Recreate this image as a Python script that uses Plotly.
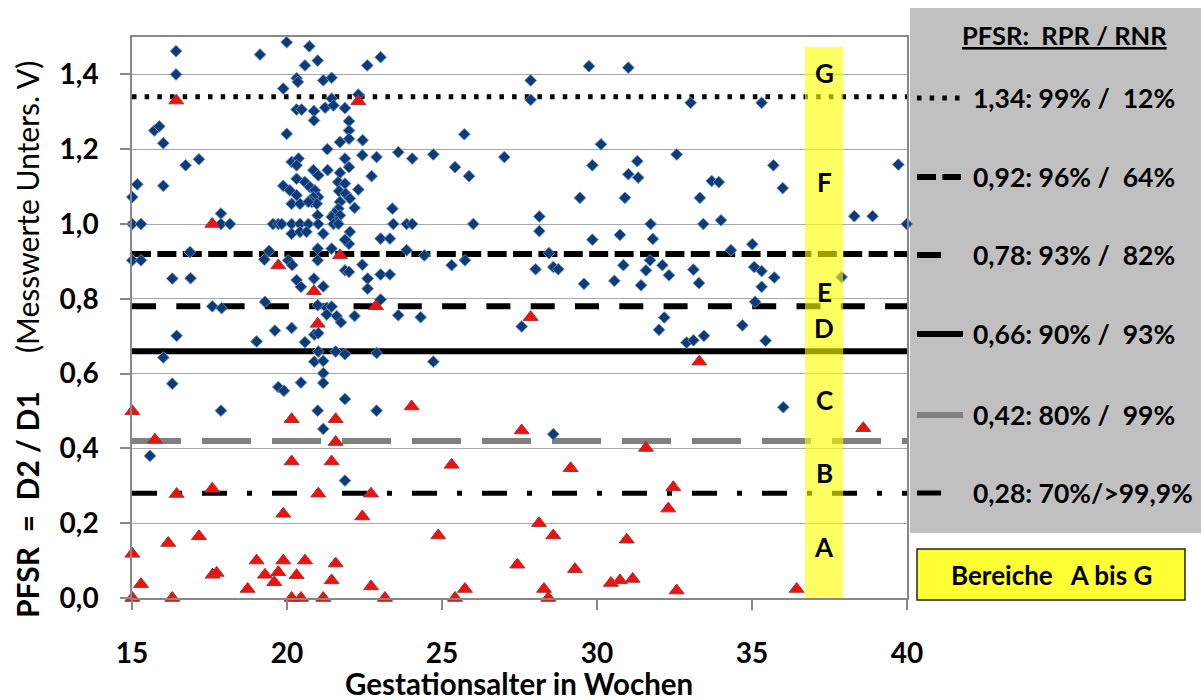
import plotly.graph_objects as go

# PFSR thresholds and their true-positive / true-negative rates
thresholds = [1.34, 0.92, 0.78, 0.66, 0.42, 0.28]
threshold_labels = [
    "1,34: 99% /  12%",
    "0,92: 96% /  64%",
    "0,78: 93% /  82%",
    "0,66: 90% /  93%",
    "0,42: 80% /  99%",
    "0,28: 70%/>99,9%",
]
region_letters = ["G", "F", "E", "D", "C", "B", "A"]

# Measurements without anaemia (blue diamonds)
weeks_normal = [
    16.42, 16.42, 19.13, 19.99, 20.72, 20.58, 20.99, 22.59, 23.02, 20.31,
    20.35, 21.17, 21.44, 19.88, 21.44, 21.23, 21.50, 20.31, 20.47, 20.87,
    21.87, 22.30, 20.87, 22.00, 22.00, 21.71, 22.00, 22.44, 19.99, 15.72,
    15.88, 16.01, 16.73, 17.16, 15.17, 15.01, 16.01, 17.87, 15.01, 15.29,
    17.87, 18.16, 16.87, 15.01, 15.29, 16.30, 16.89, 17.59, 17.89, 19.29,
    19.42, 19.27, 20.04, 20.17, 20.31, 20.45, 20.87, 21.17, 20.99, 20.99,
    21.44, 21.87, 22.00, 22.03, 22.00, 21.87, 22.43, 22.60, 22.60, 23.02,
    23.32, 23.02, 23.32, 23.02, 20.99, 21.28, 21.44, 21.28, 21.60, 22.18,
    23.40, 20.15, 20.37, 20.31, 20.85, 21.01, 21.31, 21.71, 21.87, 22.00,
    22.43, 22.89, 22.73, 21.30, 19.88, 20.31, 20.58, 20.09, 20.31, 20.15,
    20.42, 20.74, 20.90, 21.01, 20.85, 20.80, 20.96, 20.69, 21.65, 21.87,
    21.68, 21.89, 22.30, 22.03, 22.18, 21.71, 21.66, 21.53, 21.44, 21.71,
    21.60, 20.99, 19.55, 19.72, 19.83, 20.15, 20.42, 20.69, 21.01, 20.15,
    20.42, 20.63, 21.17, 21.50, 21.66, 16.44, 16.01, 16.30, 17.87, 15.58,
    19.02, 19.61, 20.15, 20.58, 20.88, 21.01, 21.74, 21.01, 21.57, 21.87,
    22.89, 20.88, 21.17, 21.17, 21.17, 19.72, 19.90, 20.45, 21.87, 20.99,
    22.89, 21.17, 21.87, 29.74, 31.01, 27.86, 27.86, 25.72, 23.59, 24.04,
    24.72, 27.01, 30.13, 25.42, 25.87, 29.85, 31.30, 31.01, 31.33, 29.45,
    30.90, 23.43, 23.86, 24.04, 26.01, 28.14, 28.14, 31.73, 29.85, 30.74,
    23.86, 24.43, 28.45, 25.31, 25.74, 28.02, 28.59, 28.75, 30.85, 31.71,
    31.58, 29.58, 30.56, 31.42, 31.80, 23.59, 24.31, 27.57, 24.72, 28.59,
    33.02, 35.31, 32.57, 35.69, 39.72, 33.70, 33.93, 35.99, 33.32, 33.43,
    34.00, 38.30, 38.89, 39.99, 34.32, 35.01, 32.11, 32.32, 33.11, 33.29,
    35.07, 35.31, 35.72, 35.31, 37.89, 35.10, 32.17, 32.00, 32.89, 33.11,
    33.45, 34.69, 35.44, 36.01,
]
pfsr_normal = [
    1.462, 1.400, 1.453, 1.486, 1.475, 1.424, 1.437, 1.424, 1.446, 1.390,
    1.380, 1.384, 1.391, 1.362, 1.335, 1.311, 1.317, 1.306, 1.306, 1.302,
    1.310, 1.346, 1.277, 1.275, 1.250, 1.219, 1.228, 1.224, 1.241, 1.250,
    1.261, 1.216, 1.157, 1.173, 1.106, 1.072, 1.102, 1.028, 1.000, 1.000,
    1.000, 1.000, 0.925, 0.903, 0.903, 0.854, 0.855, 0.780, 0.775, 0.792,
    0.928, 0.905, 0.903, 0.890, 0.850, 0.832, 0.854, 0.833, 0.934, 0.903,
    0.934, 0.876, 0.872, 0.979, 0.947, 0.958, 0.891, 0.854, 0.827, 0.865,
    0.865, 0.961, 0.961, 0.798, 0.783, 0.776, 0.779, 0.758, 0.754, 0.754,
    1.041, 1.166, 1.175, 1.157, 1.144, 1.130, 1.144, 1.137, 1.175, 1.152,
    1.184, 1.179, 1.128, 1.200, 1.102, 1.121, 1.112, 1.090, 1.077, 1.054,
    1.054, 1.099, 1.090, 1.072, 1.072, 1.059, 1.054, 1.059, 1.112, 1.108,
    1.088, 1.081, 1.092, 1.068, 1.043, 1.059, 1.041, 1.029, 1.019, 1.023,
    1.006, 1.023, 1.000, 1.000, 1.000, 1.000, 1.000, 1.000, 1.000, 0.974,
    0.979, 0.979, 0.974, 1.000, 1.000, 0.701, 0.643, 0.573, 0.501, 0.380,
    0.686, 0.715, 0.722, 0.684, 0.704, 0.708, 0.737, 0.659, 0.659, 0.652,
    0.655, 0.632, 0.634, 0.601, 0.575, 0.564, 0.554, 0.576, 0.532, 0.501,
    0.501, 0.452, 0.314, 1.422, 1.418, 1.384, 1.332, 1.240, 1.192, 1.175,
    1.186, 1.179, 1.213, 1.152, 1.128, 1.157, 1.168, 1.133, 1.124, 1.070,
    1.070, 1.000, 1.000, 1.000, 1.000, 1.020, 0.981, 1.000, 0.958, 0.971,
    0.930, 0.916, 0.922, 0.890, 0.903, 0.879, 0.885, 0.879, 0.890, 0.903,
    0.876, 0.840, 0.848, 0.836, 0.960, 0.756, 0.751, 0.726, 0.632, 0.438,
    1.324, 1.324, 1.186, 1.157, 1.159, 1.115, 1.112, 1.096, 1.070, 1.000,
    1.010, 1.021, 1.021, 1.000, 0.930, 0.946, 0.890, 0.863, 0.878, 0.842,
    0.885, 0.874, 0.857, 0.832, 0.858, 0.792, 0.750, 0.717, 0.683, 0.689,
    0.701, 0.729, 0.688, 0.510,
]

# Measurements with anaemia (red triangles)
weeks_anemic = [
    16.43, 22.30, 17.59, 19.72, 21.71, 20.87, 22.87, 20.99, 15.01, 15.74,
    20.15, 21.57, 21.57, 20.15, 21.44, 16.44, 17.59, 21.01, 22.71, 19.88,
    22.43, 17.16, 16.17, 15.01, 15.29, 15.01, 16.30, 17.60, 17.73, 19.02,
    19.29, 19.59, 19.72, 19.88, 20.31, 20.58, 18.73, 20.15, 20.45, 21.17,
    21.44, 21.57, 22.71, 23.16, 24.02, 27.57, 25.31, 29.15, 31.58, 28.13,
    28.59, 24.88, 30.96, 27.43, 29.29, 25.74, 25.42, 28.29, 28.43, 30.45,
    30.74, 31.15, 27.86, 33.30, 38.59, 32.46, 32.30, 32.57, 36.44,
]
pfsr_anemic = [
    1.330, 1.328, 1.000, 0.889, 0.916, 0.820, 0.780, 0.733, 0.499, 0.423,
    0.478, 0.478, 0.417, 0.365, 0.365, 0.278, 0.292, 0.279, 0.279, 0.225,
    0.218, 0.165, 0.147, 0.118, 0.037, 0.000, 0.000, 0.062, 0.067, 0.100,
    0.062, 0.042, 0.069, 0.100, 0.061, 0.100, 0.024, 0.000, 0.000, 0.000,
    0.047, 0.092, 0.031, 0.000, 0.512, 0.448, 0.356, 0.347, 0.401, 0.200,
    0.167, 0.167, 0.156, 0.089, 0.077, 0.024, 0.000, 0.024, 0.000, 0.040,
    0.047, 0.051, 0.751, 0.632, 0.454, 0.296, 0.239, 0.020, 0.024,
]

# ---- page geometry (pixels) ----
FIG_W, FIG_H = 1201, 700
L, R, T, B = 132, 907, 37, 598
PW, PH = R - L, B - T


def px_x(p):
    return (p - L) / PW


def px_y(p):
    return (B - p) / PH


FONT = "Lato"
BOLD = dict(family=FONT, color="black", weight="bold")

# line styles for the threshold lines (same order as thresholds)
line_styles = [
    dict(color="black", width=5, dash="4.5px,8.17px"),
    dict(color="black", width=6, dash="19px,6.4px"),
    dict(color="black", width=6, dash="24px,20.3px"),
    dict(color="black", width=6, dash="solid"),
    dict(color="#808080", width=6, dash="49px,21px"),
    dict(color="black", width=5, dash="25px,20px,5px,20px"),
]
legend_rows_py = [98, 177, 255, 334, 415, 493]
legend_sample_px = [(917, 962), (917, 961), (917, 941), (917, 963), (917, 963), (917, 941)]

band_x0, band_x1, band_top = 36.71, 37.94, 1.473
region_y = [1.404, 1.112, 0.819, 0.722, 0.530, 0.335, 0.137]

fig = go.Figure()

fig.add_trace(go.Scatter(
    x=weeks_normal, y=pfsr_normal, mode="markers", cliponaxis=False,
    marker=dict(symbol="diamond", size=9, color="#0E3B75",
                line=dict(color="#5C8BC6", width=1)),
    showlegend=False, hoverinfo="x+y",
))
fig.add_trace(go.Scatter(
    x=weeks_anemic, y=pfsr_anemic, mode="markers", cliponaxis=False,
    marker=dict(symbol="triangle-up", size=13, color="#F01010",
                line=dict(color="#A83232", width=1)),
    showlegend=False, hoverinfo="x+y",
))

shapes = []
# grey legend panel on the right
shapes.append(dict(type="rect", xref="paper", yref="paper",
                   x0=px_x(910), x1=px_x(1215), y0=px_y(533), y1=px_y(8),
                   fillcolor="#C0C0C0", line=dict(width=0), layer="below"))
# threshold lines across the plot + legend samples
for thr, st, py, (sx0, sx1) in zip(thresholds, line_styles, legend_rows_py, legend_sample_px):
    shapes.append(dict(type="line", xref="x", yref="y", x0=15, x1=40, y0=thr, y1=thr,
                       line=st, layer="below"))
    shapes.append(dict(type="line", xref="paper", yref="paper",
                       x0=px_x(sx0), x1=px_x(sx1), y0=px_y(py), y1=px_y(py),
                       line=st, layer="above"))
# yellow band marking the regions
shapes.append(dict(type="rect", xref="x", yref="y", x0=band_x0, x1=band_x1,
                   y0=0, y1=band_top, fillcolor="rgba(255,255,0,0.62)",
                   line=dict(width=0), layer="above"))
# yellow caption box
shapes.append(dict(type="rect", xref="paper", yref="paper",
                   x0=px_x(917), x1=px_x(1185), y0=px_y(600), y1=px_y(549),
                   fillcolor="#FFFF33", line=dict(color="#222222", width=1.5),
                   layer="above"))

annotations = []
for letter, ly in zip(region_letters, region_y):
    annotations.append(dict(x=(band_x0 + band_x1) / 2, y=ly, xref="x", yref="y",
                            text=letter, showarrow=False,
                            font=dict(size=26, **BOLD)))
for lab, py in zip(threshold_labels, legend_rows_py):
    annotations.append(dict(x=px_x(971), y=px_y(py), xref="paper", yref="paper",
                            text=lab, showarrow=False, xanchor="left", yanchor="middle",
                            font=dict(size=26.5, **BOLD)))
annotations.append(dict(x=px_x(1064), y=px_y(35), xref="paper", yref="paper",
                        text="<span style='text-decoration:underline'>PFSR:  RPR / RNR</span>",
                        showarrow=False, xanchor="center", yanchor="middle",
                        font=dict(size=25.5, **BOLD)))
annotations.append(dict(x=px_x(1051), y=px_y(575), xref="paper", yref="paper",
                        text="Bereiche   A bis G", showarrow=False,
                        xanchor="center", yanchor="middle",
                        font=dict(size=26, **BOLD)))
# axis titles
annotations.append(dict(x=px_x(519), y=px_y(683), xref="paper", yref="paper",
                        text="Gestationsalter in Wochen", showarrow=False,
                        xanchor="center", yanchor="middle",
                        font=dict(size=29.5, **BOLD)))
annotations.append(dict(x=px_x(27), y=px_y(340), xref="paper", yref="paper",
                        text="<b>PFSR  =  D2 / D1</b>     (Messwerte Unters. V)",
                        textangle=-90, showarrow=False,
                        xanchor="center", yanchor="middle",
                        font=dict(family=FONT, size=30, color="black")))

fig.update_layout(
    width=FIG_W, height=FIG_H,
    margin=dict(l=L, r=FIG_W - R, t=T, b=FIG_H - B, pad=0),
    paper_bgcolor="white", plot_bgcolor="white",
    separators=",.",
    showlegend=False,
    shapes=shapes, annotations=annotations,
    xaxis=dict(range=[15, 40], tick0=15, dtick=5, showgrid=False, zeroline=False,
               ticks="outside", ticklen=10, tickcolor="#888888", tickwidth=1.5,
               showline=True, linecolor="#888888", linewidth=1.5, mirror=True,
               tickfont=dict(size=28, **BOLD), ticklabelstandoff=20),
    yaxis=dict(range=[0, 1.5], tick0=0, dtick=0.2, tickformat=".1f",
               showgrid=True, gridcolor="#A8A8A8", gridwidth=1, zeroline=False,
               ticks="outside", ticklen=10, tickcolor="#888888", tickwidth=1.5,
               showline=True, linecolor="#888888", linewidth=1.5, mirror=True,
               tickfont=dict(size=28, **BOLD), ticklabelstandoff=16),
)

fig.write_html("out.html")
